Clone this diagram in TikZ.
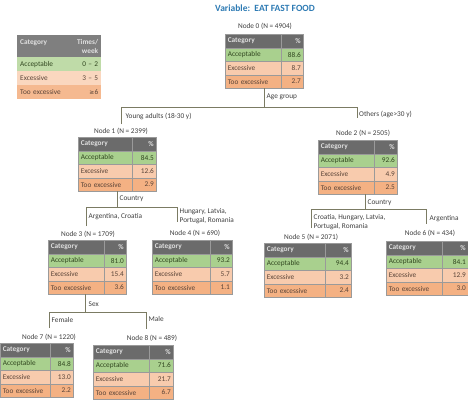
\documentclass[tikz,border=0pt]{standalone}
\usepackage{fontspec}
\setmainfont{Carlito}
\newfontfamily\symfnt{DejaVu Sans}
\definecolor{hdr}{HTML}{6B6B6B}
\definecolor{acc}{HTML}{A9D08E}
\definecolor{exc}{HTML}{F8CBAD}
\definecolor{tex}{HTML}{F4B183}
\definecolor{lhdr}{HTML}{7F7F7F}
\definecolor{lacc}{HTML}{BFDBA8}
\definecolor{lexc}{HTML}{FAD7BF}
\definecolor{ltex}{HTML}{F5B990}
\definecolor{cline}{HTML}{9A9A9A}
\definecolor{linkc}{HTML}{7B7B63}
\definecolor{ttl}{HTML}{2E7BB4}
\definecolor{txt}{HTML}{404040}
\definecolor{acctxt}{HTML}{30461F}
\definecolor{exctxt}{HTML}{5A4438}
\tikzset{
  tcell/.style={draw=cline, line width=0.6pt, anchor=north west, inner xsep=2.5pt,
    inner ysep=0pt, minimum height=13.5pt, font=\fontsize{7.3}{8}\selectfont, text=txt},
  hcell/.style={tcell, fill=hdr, text=white!88!black, font=\bfseries\fontsize{7.3}{8}\selectfont},
  lcell/.style={anchor=north west, inner xsep=3pt, inner ysep=0pt, minimum height=14pt,
    font=\fontsize{7.3}{9}\selectfont, text=txt},
  lbl/.style={inner sep=0.5pt, font=\fontsize{7.3}{9}\selectfont, text=txt},
  link/.style={draw=linkc, line width=0.8pt}
}
% #1 name, #2 x, #3 y, #4 category width, #5 value width, #6-#8 values
\newcommand\ctab[8]{%
  \pgfmathsetmacro\cw{#4-5}%
  \pgfmathsetmacro\vw{#5-5}%
  \node[hcell, text width=\cw pt, align=left] (#1h) at (#2,#3) {Category};
  \node[hcell, text width=\vw pt, align=right] (#1hv) at (#2+#4,#3) {\%};
  \node[tcell, fill=acc, text=acctxt, text width=\cw pt, align=left] (#1a) at (#2,#3+13.5) {Acceptable};
  \node[tcell, fill=acc, text=acctxt, text width=\vw pt, align=right] (#1av) at (#2+#4,#3+13.5) {#6};
  \node[tcell, fill=exc, text=exctxt, text width=\cw pt, align=left] (#1e) at (#2,#3+27) {Excessive};
  \node[tcell, fill=exc, text=exctxt, text width=\vw pt, align=right] (#1ev) at (#2+#4,#3+27) {#7};
  \node[tcell, fill=tex, text=exctxt, text width=\cw pt, align=left] (#1t) at (#2,#3+40.5) {Too excessive};
  \node[tcell, fill=tex, text=exctxt, text width=\vw pt, align=right] (#1tv) at (#2+#4,#3+40.5) {#8};
}
\begin{document}
\begin{tikzpicture}[x=1pt,y=-1pt]
\useasboundingbox (0,0) rectangle (468,405);
\clip (0,0) rectangle (468,405);
\fill[white] (0,0) rectangle (468,405);

% title
\node[font=\bfseries\fontsize{9.5}{11}\selectfont, text=ttl] (title) at (265,8) {Variable:\ \ EAT FAST FOOD};

% legend
\node[lcell, fill=lhdr, text=white!88!black, font=\bfseries\fontsize{7.3}{9}\selectfont, text width=46pt, align=left, minimum height=22pt] (lgh) at (17,35) {Category\\\mbox{}};
\node[lcell, fill=lhdr, text=white!88!black, font=\bfseries\fontsize{7.3}{9}\selectfont, text width=26pt, align=right, minimum height=22pt] (lgv) at (69,35) {Times/\\week};
\node[lcell, fill=lacc, text=acctxt, text width=46pt, align=left] (lga) at (17,57) {Acceptable};
\node[lcell, fill=lacc, text=acctxt, text width=26pt, align=right] (lgav) at (69,57) {0 – 2};
\node[lcell, fill=lexc, text=exctxt, text width=46pt, align=left] (lge) at (17,71) {Excessive};
\node[lcell, fill=lexc, text=exctxt, text width=26pt, align=right] (lgev) at (69,71) {3 – 5};
\node[lcell, fill=ltex, text=exctxt, text width=46pt, align=left] (lgt) at (17,85) {Too excessive};
\node[lcell, fill=ltex, text=exctxt, text width=26pt, align=right] (lgtv) at (69,85) {{\symfnt\fontsize{6}{7}\selectfont ≥}6};

% node titles
\node[lbl] (t0) at (265,26) {Node 0 (N = 4904)};
\node[lbl] (t1) at (121,131) {Node 1 (N = 2399)};
\node[lbl] (t2) at (363,133) {Node 2 (N = 2505)};
\node[lbl] (t3) at (88,234) {Node 3 (N = 1709)};
\node[lbl] (t4) at (195,233) {Node 4 (N = 690)};
\node[lbl] (t5) at (311,237) {Node 5 (N = 2071)};
\node[lbl] (t6) at (430,233) {Node 6 (N = 434)};
\node[lbl] (t7) at (49,337) {Node 7 (N = 1220)};
\node[lbl] (t8) at (152,338) {Node 8 (N = 489)};

% tables
\ctab{n0}{225}{34}{56}{22}{88.6}{8.7}{2.7}
\ctab{n1}{78}{137}{54}{24}{84.5}{12.6}{2.9}
\ctab{n2}{318}{140}{56}{23}{92.6}{4.9}{2.5}
\ctab{n3}{48}{240}{56}{22}{81.0}{15.4}{3.6}
\ctab{n4}{152}{240}{58}{22}{93.2}{5.7}{1.1}
\ctab{n5}{264}{243}{61}{26}{94.4}{3.2}{2.4}
\ctab{n6}{386}{241}{56}{26}{84.1}{12.9}{3.0}
\ctab{n7}{0}{343}{50}{23}{84.8}{13.0}{2.2}
\ctab{n8}{93}{345}{56}{24}{71.6}{21.7}{6.7}

% connector coordinates
\coordinate (s0) at (264,88);  \coordinate (j0) at (264,107);
\coordinate (d1) at (121,124); \coordinate (d2) at (357,118);
\coordinate (s1) at (117,191); \coordinate (j1) at (117,207);
\coordinate (d3) at (86,226);  \coordinate (d4) at (177,222);
\coordinate (s2) at (365,194); \coordinate (j2) at (365,209);
\coordinate (d5) at (311,228); \coordinate (d6) at (426,224);
\coordinate (s3) at (85,294);  \coordinate (j3) at (85,312);
\coordinate (d7) at (49,328);  \coordinate (d8) at (146,329);

\draw[link] (s0) -- (j0);
\draw[link] (d1) -- (d1 |- j0) -- (d2 |- j0) -- (d2);
\draw[link] (s1) -- (j1);
\draw[link] (d3) -- (d3 |- j1) -- (d4 |- j1) -- (d4);
\draw[link] (s2) -- (j2);
\draw[link] (d5) -- (d5 |- j2) -- (d6 |- j2) -- (d6);
\draw[link] (s3) -- (j3);
\draw[link] (d7) -- (d7 |- j3) -- (d8 |- j3) -- (d8);

% split labels
\node[lbl, anchor=west] (lag) at (266,97) {Age group};
\node[lbl, anchor=west] (lya) at (125,116) {Young adults (18-30 y)};
\node[lbl, anchor=west] (lot) at (358.5,114) {Others (age>30 y)};
\node[lbl, anchor=west] (lc1) at (119,199) {Country};
\node[lbl, anchor=west] (lac) at (88,217) {Argentina, Croatia};
\node[lbl, anchor=west, align=left] (lhu) at (179,216.5) {Hungary, Latvia,\\Portugal, Romania};
\node[lbl, anchor=west] (lc2) at (367,203) {Country};
\node[lbl, anchor=west, align=left] (lcr) at (313,222.5) {Croatia, Hungary, Latvia,\\Portugal, Romania};
\node[lbl, anchor=west] (lar) at (429,219) {Argentina};
\node[lbl, anchor=west] (lsx) at (88,304) {Sex};
\node[lbl, anchor=west] (lfe) at (51,320) {Female};
\node[lbl, anchor=west] (lma) at (148,319) {Male};
\end{tikzpicture}
\end{document}
